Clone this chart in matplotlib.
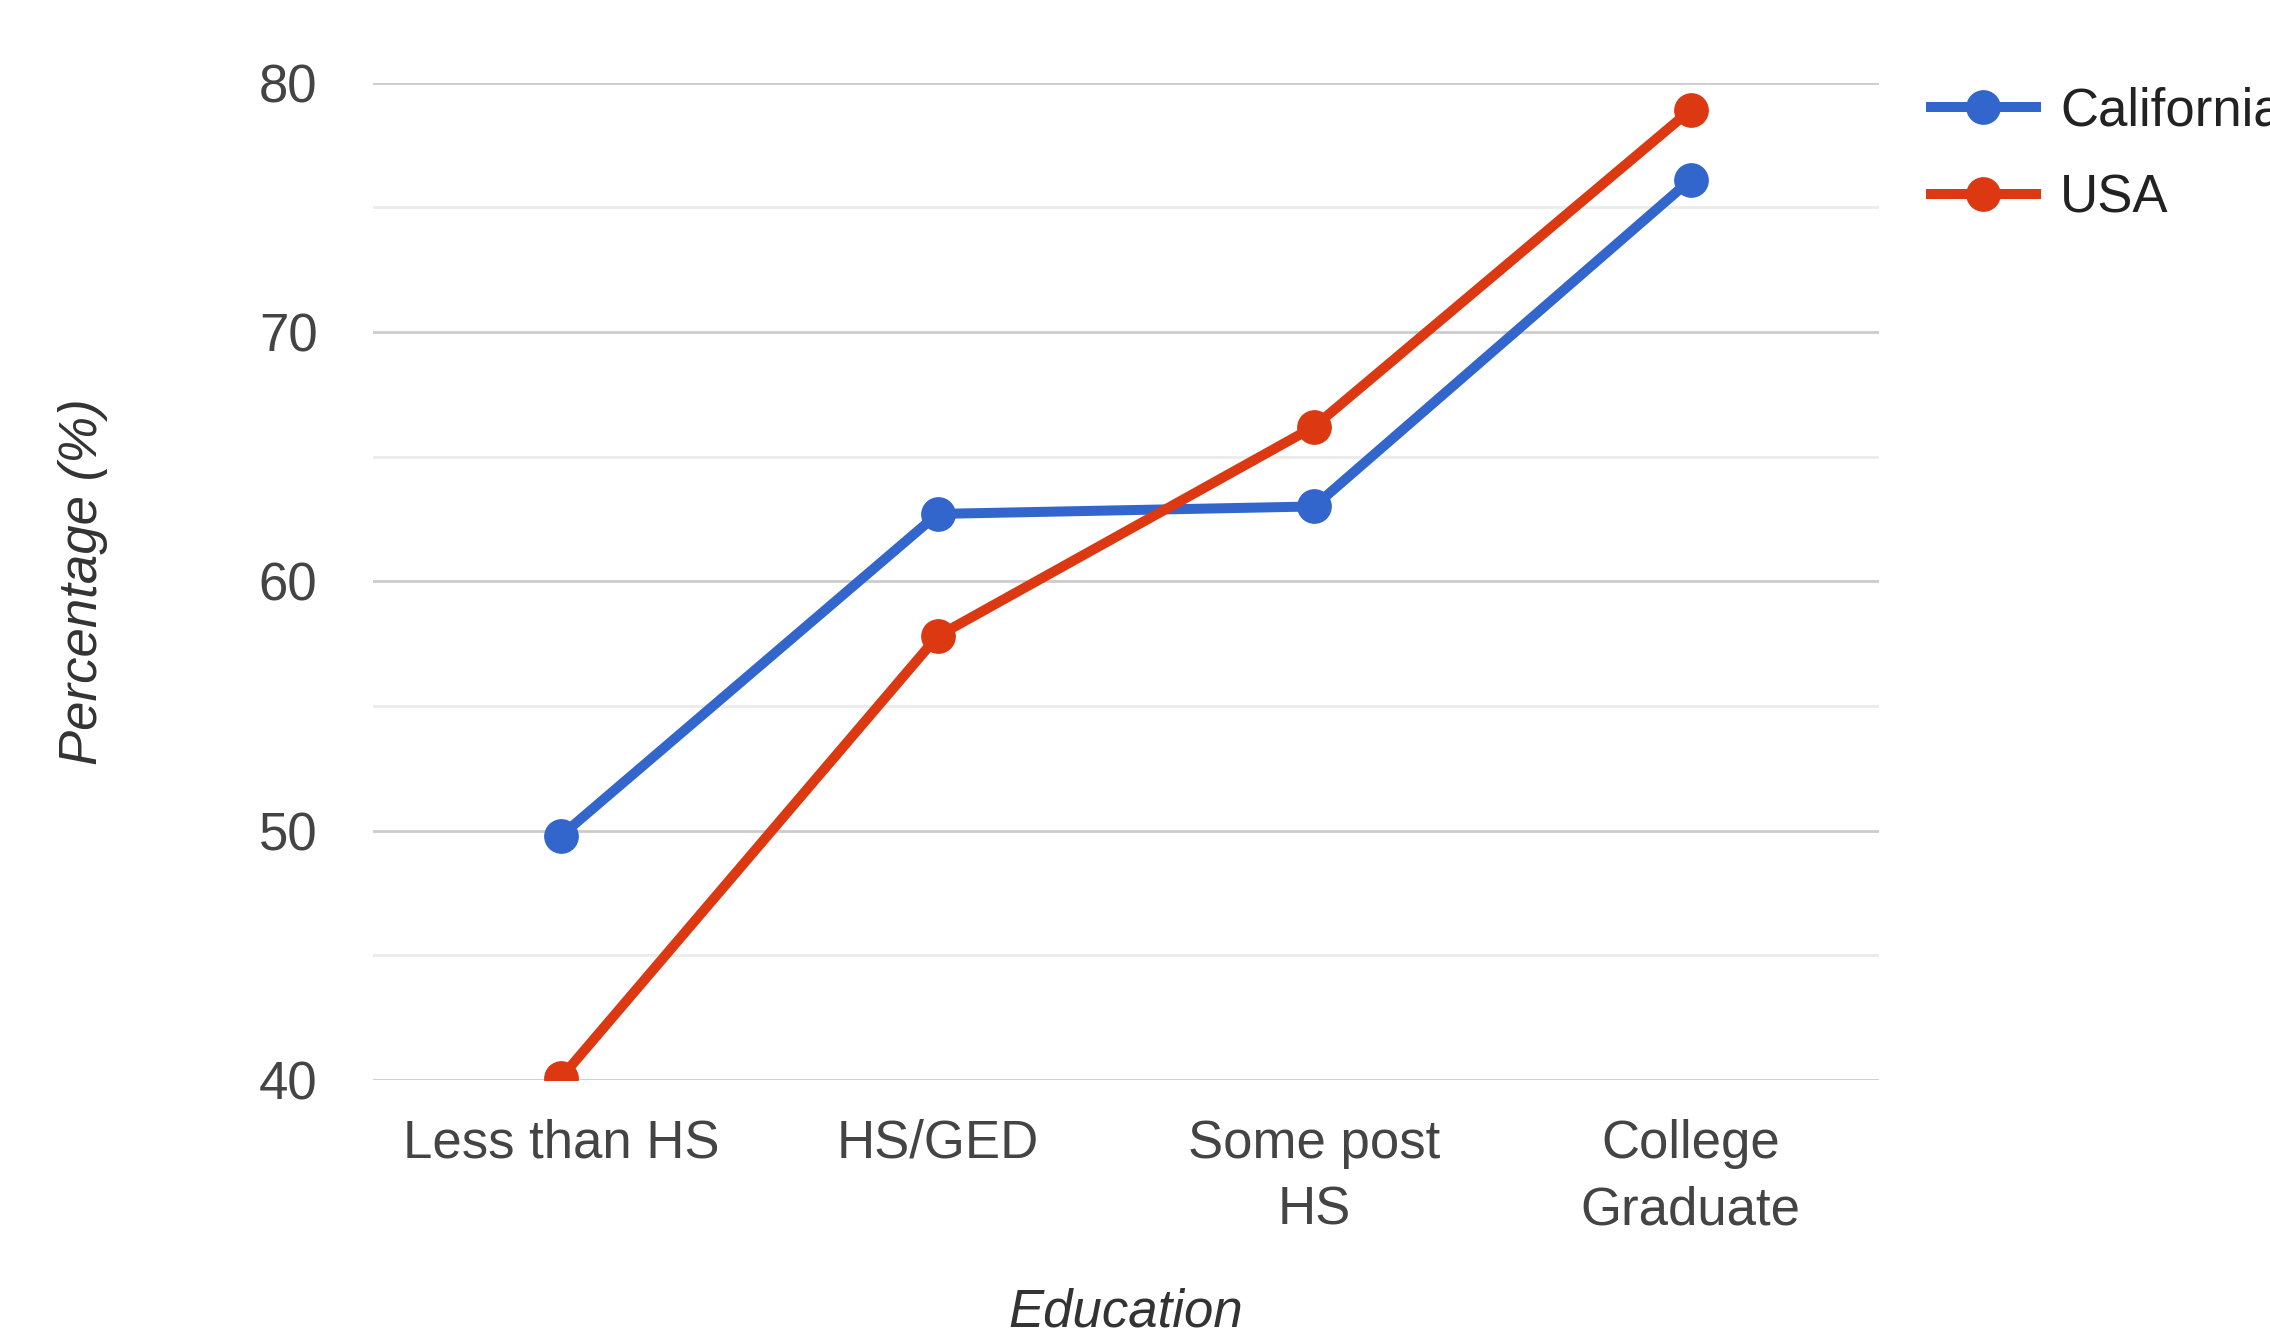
import matplotlib.pyplot as plt
from matplotlib.ticker import MultipleLocator

plt.rcParams['font.family'] = ['Liberation Sans', 'DejaVu Sans']

categories = ["Less than HS", "HS/GED", "Some post\nHS", "College\nGraduate"]
california = [49.8, 62.7, 63.0, 76.1]
usa = [40.1, 57.8, 66.2, 78.9]

blue = "#3366cc"
red = "#dc3912"

fig = plt.figure(figsize=(22.7, 13.35), dpi=100)
ax = fig.add_axes([0.1643, 0.191, 0.6634, 0.7472])

x = range(len(categories))
ax.plot(x, california, color=blue, lw=7.2, marker='o', ms=24, label="California", zorder=3)
ax.plot(x, usa, color=red, lw=7.2, marker='o', ms=24, label="USA", zorder=3)

ax.set_xlim(-0.5, len(categories) - 0.5)
ax.set_ylim(40, 80)
ax.yaxis.set_major_locator(MultipleLocator(10))
ax.yaxis.set_minor_locator(MultipleLocator(5))
ax.grid(axis='y', which='major', color='#cccccc', lw=2)
ax.grid(axis='y', which='minor', color='#ebebeb', lw=2)
ax.set_axisbelow(True)
for s in ax.spines.values():
    s.set_visible(False)

ax.set_xticks(list(x))
ax.set_xticklabels(categories, linespacing=1.42)
ax.tick_params(axis='both', which='both', length=0, labelsize=38, labelcolor='#444444')
ax.tick_params(axis='x', pad=28)
ax.tick_params(axis='y', pad=40)

ax.text(0.5, -0.2326, "Education", transform=ax.transAxes, ha='center', va='center',
        fontsize=38, style='italic', color='#333333')
ax.text(-0.1926, 0.5, "Percentage (%)", transform=ax.transAxes, ha='center', va='center',
        rotation=90, fontsize=38, style='italic', color='#333333')

# legend sits in the right margin, running off the edge like the original export
fig.legend(loc='upper left', bbox_to_anchor=(0.8505, 0.935), frameon=False, fontsize=38,
           handlelength=2.0, handletextpad=0.45, labelspacing=0.7, borderaxespad=0,
           borderpad=0, labelcolor='#222222')

fig.savefig("out.png", dpi=100, facecolor='white')
